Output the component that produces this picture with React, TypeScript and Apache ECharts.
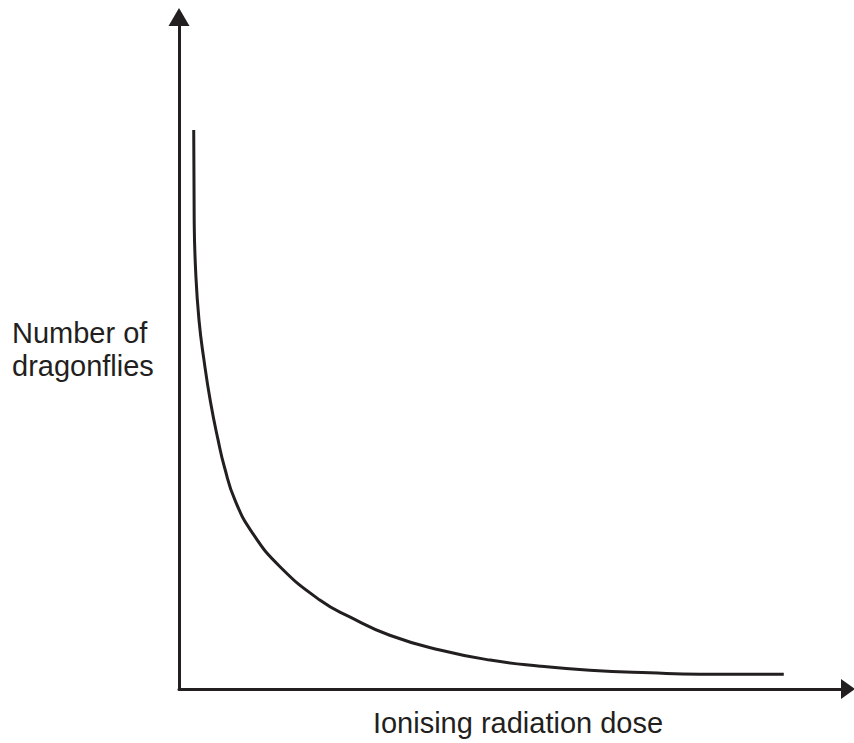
import React, { useEffect, useRef } from "react";
import * as echarts from "echarts";

const doseValues = [2.2, 2.27, 2.48, 2.99, 3.74, 4.71, 5.83, 6.8, 8.37, 10.99, 15.1, 21.1, 25.6, 31.5, 39.0, 46.5, 54.0, 61.4, 70.4, 77.9, 90.4];
const dragonflyValues = [83.2, 69.8, 62.4, 54.9, 48.9, 42.7, 37.1, 33.0, 28.1, 23.2, 18.2, 13.2, 10.7, 8.0, 5.8, 4.3, 3.4, 2.8, 2.4, 2.2, 2.2];
const yAxisTitle = ["Number of", "dragonflies"];
const xAxisTitle = "Ionising radiation dose";

const INK = "#231f20";
const FONT = "'Liberation Sans', Arial, sans-serif";

export default function App() {
  const ref = useRef<HTMLDivElement>(null);
  useEffect(() => {
    if (!ref.current) return;
    const chart = echarts.init(ref.current, undefined, { renderer: "svg" });
    chart.setOption({
      animation: false,
      grid: { left: 179, right: 6, top: 17, bottom: 54 },
      xAxis: {
        type: "value",
        min: 0,
        max: 100,
        axisLine: {
          show: true,
          lineStyle: { color: INK, width: 3 },
          symbol: ["none", "triangle"],
          symbolSize: [20, 14],
          symbolOffset: [0, 0],
        },
        axisTick: { show: false },
        axisLabel: { show: false },
        splitLine: { show: false },
      },
      yAxis: {
        type: "value",
        min: 0,
        max: 100,
        axisLine: {
          show: true,
          lineStyle: { color: INK, width: 3 },
          symbol: ["none", "triangle"],
          symbolSize: [21, 18],
          symbolOffset: [0, 0],
        },
        axisTick: { show: false },
        axisLabel: { show: false },
        splitLine: { show: false },
      },
      series: [
        {
          type: "line",
          data: doseValues.map((x, i) => [x, dragonflyValues[i]]),
          smooth: 0.5,
          showSymbol: false,
          lineStyle: { color: INK, width: 3 },
        },
      ],
      graphic: [
        {
          type: "text",
          left: 12,
          top: 316,
          style: {
            text: yAxisTitle.join("\n"),
            font: `29px ${FONT}`,
            fill: INK,
            lineHeight: 33,
          },
        },
        {
          type: "text",
          x: 518,
          y: 723,
          style: {
            text: xAxisTitle,
            font: `29px ${FONT}`,
            fill: INK,
            align: "center",
            verticalAlign: "middle",
          },
        },
      ],
    });
    return () => chart.dispose();
  }, []);
  return <div ref={ref} style={{ width: 854, height: 743, position: "absolute", left: 0, top: 0 }} />;
}
